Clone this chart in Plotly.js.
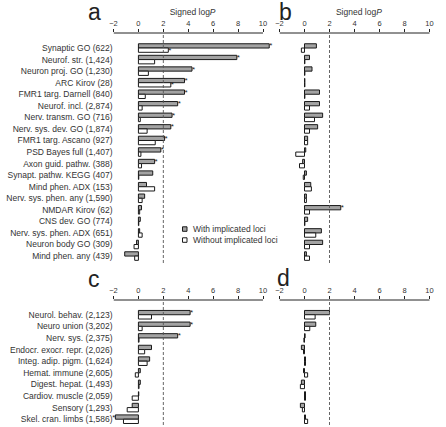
<!DOCTYPE html>
<html>
<head>
<meta charset="utf-8">
<script src="https://cdn.plot.ly/plotly-3.0.1.min.js"></script>
<style>
html,body{margin:0;padding:0;background:#fff;}
#chart{width:446px;height:427px;}
</style>
</head>
<body>
<div id="chart"></div>
<script>
// ---- data ----
const catsTop = ['Synaptic GO (622)', 'Neurof. str. (1,424)', 'Neuron proj. GO (1,230)', 'ARC Kirov (28)',
  'FMR1 targ. Darnell (840)', 'Neurof. incl. (2,874)', 'Nerv. transm. GO (716)', 'Nerv. sys. dev. GO (1,874)',
  'FMR1 targ. Ascano (927)', 'PSD Bayes full (1,407)', 'Axon guid. pathw. (388)', 'Synapt. pathw. KEGG (407)',
  'Mind phen. ADX (153)', 'Nerv. sys. phen. any (1,590)', 'NMDAR Kirov (62)', 'CNS dev. GO (774)',
  'Nerv. sys. phen. ADX (651)', 'Neuron body GO (309)', 'Mind phen. any (439)'];
const aWith    = [10.5, 7.9, 4.3, 3.7, 3.7, 3.15, 2.7, 2.6, 2.1, 1.8, 1.3, 1.15, 0.65, 0.5, 0.25, 0.15, 0.1, -0.15, -1.1];
const aWithout = [2.4, 1.3, 0.8, 2.6, 0.55, 0.3, 0.15, 0.7, 1.35, 0.2, 0.25, 0.03, 1.3, 0.3, 0.1, 0.03, 0.3, -0.35, -0.3];
const aWithStar    = ['*','*','*','*','*','*','*','*','*','*','*','','','','','','','',''];
const aWithoutStar = ['*','','','*','','','','','','','','','','','','','','',''];
const bWith    = [0.95, 0.4, 0.6, 0.03, 1.2, 1.2, 1.45, 1.05, 0.25, 0.1, -0.15, 0.15, 0.5, 0.15, 2.9, 0.25, 1.35, 1.45, 0.15];
const bWithout = [-0.25, 0.03, 0.03, 0.03, 0.03, 0.4, 0.8, 0.4, 0.25, -0.7, -0.4, -0.1, 0.55, 0.15, 0.4, 0.03, 0.9, 0.4, 0.4];
const bWithStar = ['','','','','','','','','','','','','','','*','','','',''];
const catsBottom = ['Neurol. behav. (2,123)', 'Neuro union (3,202)', 'Nerv. sys. (2,375)', 'Endocr. exocr. repr. (2,026)',
  'Integ. adip. pigm. (1,624)', 'Hemat. immune (2,605)', 'Digest. hepat. (1,493)', 'Cardiov. muscle (2,059)',
  'Sensory (1,293)', 'Skel. cran. limbs (1,586)'];
const cWith    = [4.15, 4.15, 3.15, 1.05, 0.9, 0.15, 0.15, 0.03, -0.5, -1.85];
const cWithout = [1.05, 0.3, 0.05, 0.5, 0.7, -0.25, 0.05, -0.5, -0.9, -1.2];
const cWithStar = ['*','*','*','','','','','','','*'];
const dWith    = [2.0, 0.9, 0.05, -0.25, 0.08, -0.08, -0.25, 0.08, -0.33, 0.08];
const dWithout = [0.85, 0.42, -0.05, -0.08, 0.08, 0.25, -0.33, 0.08, -0.17, 0.25];
const xTicks = [-2, 0, 2, 4, 6, 8, 10];
const panelLetters = ['a', 'b', 'c', 'd'];
const legendNames = ['With implicated loci', 'Without implicated loci'];
const threshold = 2;

// ---- styling ----
const FONT = 'Liberation Sans, Arial, sans-serif';
const TXT = '#333333';
const GREY = '#a3a3a3';
const W = 446, H = 427;
const px = v => v / W;
const py = v => 1 - v / H;
const XMAX = 10.7;

function barTrace(vals, cats, fill, stars, xa, ya, name) {
  const t = {
    type: 'bar', orientation: 'h', x: vals, y: cats, name: name,
    xaxis: xa, yaxis: ya, showlegend: false,
    marker: {color: fill, line: {color: '#1a1a1a', width: 1}},
    cliponaxis: false, hoverinfo: 'x+y'
  };
  if (stars) {
    t.text = stars;
    t.textposition = 'outside';
    t.constraintext = 'none';
    t.textfont = {family: FONT, size: 8, color: '#222'};
  } else {
    t.textposition = 'none';
  }
  return t;
}

const data = [
  barTrace(aWith, catsTop, GREY, aWithStar, 'x', 'y', legendNames[0]),
  barTrace(aWithout, catsTop, '#ffffff', aWithoutStar, 'x', 'y', legendNames[1]),
  barTrace(bWith, catsTop, GREY, bWithStar, 'x2', 'y2', legendNames[0]),
  barTrace(bWithout, catsTop, '#ffffff', null, 'x2', 'y2', legendNames[1]),
  barTrace(cWith, catsBottom, GREY, cWithStar, 'x3', 'y3', legendNames[0]),
  barTrace(cWithout, catsBottom, '#ffffff', null, 'x3', 'y3', legendNames[1]),
  barTrace(dWith, catsBottom, GREY, null, 'x4', 'y4', legendNames[0]),
  barTrace(dWithout, catsBottom, '#ffffff', null, 'x4', 'y4', legendNames[1])
];

const unitL = (263 - 113.5) / 12, unitR = (429.5 - 279.5) / 12;
const domLeft = [px(113.5), px(113.5 + (XMAX + 2) * unitL)];
const domRight = [px(279.5), px(279.5 + (XMAX + 2) * unitR)];
const domTop = [py(263), py(33)];
const domBottom = [py(425), py(300)];

function xAxis(dom, anchor, withTitle) {
  const ax = {
    domain: dom, anchor: anchor, side: 'top', range: [-2, XMAX],
    tickmode: 'array', tickvals: xTicks,
    ticks: 'outside', ticklen: 3, tickwidth: 1, tickcolor: '#222',
    showline: false,
    showgrid: false, zeroline: false, fixedrange: true,
    tickfont: {family: FONT, size: 7.5, color: TXT}
  };
  if (withTitle) {
    ax.title = {text: 'Signed log<i>P</i>', font: {family: FONT, size: 8.5, color: TXT}, standoff: 2};
  }
  return ax;
}
function yAxis(dom, anchor, cats, range, showLabels) {
  return {
    domain: dom, anchor: anchor, type: 'category', range: range,
    categoryorder: 'array', categoryarray: cats,
    tickmode: 'array', tickvals: cats, ticktext: cats,
    showticklabels: showLabels, ticks: '', showline: false, showgrid: false,
    zeroline: false, fixedrange: true,
    tickfont: {family: FONT, size: 8.5, color: TXT}
  };
}

const topRange = [18.6, -1.3];
const botRange = [9.5, -1.27];

const dash = (xa, ya) => ({
  type: 'line', xref: xa, yref: ya + ' domain', x0: threshold, x1: threshold, y0: 0, y1: 1,
  line: {color: '#555', width: 0.9, dash: '3px,2px'}, layer: 'above'
});
const axisLine = (xa, ya) => ({
  type: 'line', xref: xa, yref: ya + ' domain', x0: xTicks[0], x1: xTicks[xTicks.length - 1], y0: 1, y1: 1,
  line: {color: '#222', width: 1}, layer: 'above'
});

const letterPos = [[94, 12], [285, 12], [94, 279], [283, 278]];
const annotations = panelLetters.map((t, i) => ({
  text: t, xref: 'paper', yref: 'paper', x: px(letterPos[i][0]), y: py(letterPos[i][1]),
  xanchor: 'center', yanchor: 'middle', showarrow: false,
  font: {family: FONT, size: 23, color: '#222'}
}));
annotations.push(
  {text: legendNames[0], xref: 'paper', yref: 'paper', x: px(190.5), y: py(229), xanchor: 'left', yanchor: 'middle',
   showarrow: false, font: {family: FONT, size: 8.5, color: TXT}},
  {text: legendNames[1], xref: 'paper', yref: 'paper', x: px(190.5), y: py(240), xanchor: 'left', yanchor: 'middle',
   showarrow: false, font: {family: FONT, size: 8.5, color: TXT}}
);

const shapes = [
  dash('x', 'y'), dash('x2', 'y2'), dash('x3', 'y3'), dash('x4', 'y4'),
  axisLine('x', 'y'), axisLine('x2', 'y2'), axisLine('x3', 'y3'), axisLine('x4', 'y4'),
  {type: 'rect', xref: 'paper', yref: 'paper', x0: px(182.5), x1: px(187), y0: py(231.3), y1: py(226.8),
   fillcolor: GREY, line: {color: '#1a1a1a', width: 1}},
  {type: 'rect', xref: 'paper', yref: 'paper', x0: px(182.5), x1: px(187), y0: py(242.3), y1: py(237.8),
   fillcolor: '#ffffff', line: {color: '#1a1a1a', width: 1}}
];

const layout = {
  width: W, height: H,
  margin: {l: 0, r: 0, t: 0, b: 0, pad: 0},
  paper_bgcolor: '#fff', plot_bgcolor: 'rgba(0,0,0,0)',
  barmode: 'group', bargap: 0.26, bargroupgap: 0,
  showlegend: false,
  font: {family: FONT, color: TXT},
  xaxis: xAxis(domLeft, 'y', true),
  xaxis2: xAxis(domRight, 'y2', true),
  xaxis3: xAxis(domLeft, 'y3', false),
  xaxis4: xAxis(domRight, 'y4', false),
  yaxis: yAxis(domTop, 'x', catsTop, topRange, true),
  yaxis2: yAxis(domTop, 'x2', catsTop, topRange, false),
  yaxis3: yAxis(domBottom, 'x3', catsBottom, botRange, true),
  yaxis4: yAxis(domBottom, 'x4', catsBottom, botRange, false),
  shapes: shapes,
  annotations: annotations
};

Plotly.newPlot('chart', data, layout, {displayModeBar: false, staticPlot: true});
</script>
</body>
</html>
